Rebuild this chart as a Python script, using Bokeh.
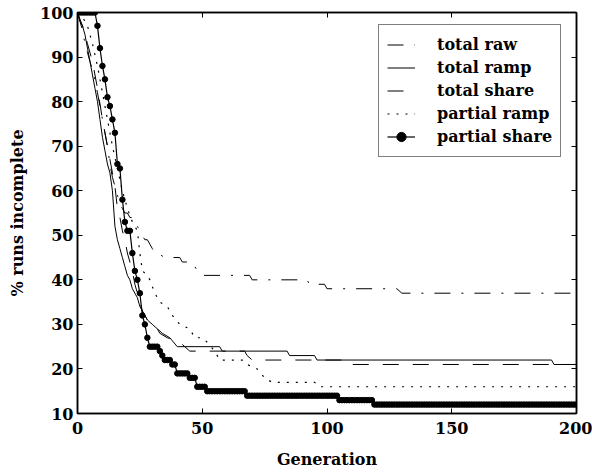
import numpy as np
from bokeh.plotting import figure
from bokeh.models import (Range1d, LinearAxis, FixedTicker, Legend, LegendItem,
                          CustomJSTickFormatter)
from bokeh.embed import file_html
from bokeh.resources import INLINE

FONT = "DejaVu Serif"

# ---------------- data ----------------
x_ticks = [0, 50, 100, 150, 200]
y_ticks = [10, 20, 30, 40, 50, 60, 70, 80, 90, 100]

total_raw_gen = [0, 1, 2, 3, 4, 5, 6, 7, 8, 9, 10, 11, 12, 13, 14, 15, 16, 17, 18, 19, 20,
                 21, 22, 23, 24, 25, 26, 27, 28, 29, 30, 31, 32, 35, 41, 42, 46, 48, 50,
                 69, 70, 92, 93, 99, 100, 128, 130, 200]
total_raw_val = [100, 98, 96, 93, 91, 89, 87, 85, 82, 79, 76, 73, 70, 66, 63, 61, 59, 57, 56, 55, 55,
                 54, 54, 53, 52, 51, 50, 49, 49, 48, 47, 46, 46, 45, 45, 44, 44, 42, 41,
                 41, 40, 40, 39, 39, 38, 38, 37, 37]

total_ramp_gen = [0, 1, 2, 3, 4, 5, 6, 7, 8, 9, 10, 11, 12, 13, 14, 15, 16, 17, 18, 19, 20,
                  21, 22, 23, 24, 25, 26, 27, 28, 30, 34, 37, 40, 57, 58, 84, 85, 95, 96,
                  190, 191, 200]
total_ramp_val = [100, 98, 97, 95, 92, 89, 86, 83, 80, 76, 72, 69, 66, 64, 60, 52, 49, 47, 45, 43, 41,
                  40, 38, 37, 36, 34, 33, 32, 31, 30, 28, 27, 25, 25, 24, 24, 23, 23, 22,
                  22, 21, 21]

total_share_gen = [0, 2, 4, 6, 8, 10, 12, 13, 14, 15, 16, 17, 18, 19, 20, 21, 22, 23, 24, 25,
                   26, 27, 28, 30, 32, 33, 36, 41, 43, 45, 67, 68, 70, 106, 107, 200]
total_share_val = [100, 97, 93, 89, 83, 76, 70, 67, 64, 61, 56, 54, 51, 49, 46, 44, 42, 39, 37, 35,
                   33, 32, 31, 30, 29, 28, 27, 26, 25, 24, 24, 23, 22, 22, 21, 21]

partial_ramp_gen = [0, 2, 4, 6, 8, 10, 12, 14, 16, 18, 20, 22, 24, 25, 26, 28, 29, 31, 33, 36,
                    38, 41, 45, 47, 50, 52, 55, 57, 66, 68, 72, 75, 78, 95, 97, 200]
partial_ramp_val = [100, 99, 97, 93, 88, 82, 76, 70, 65, 60, 56, 53, 51, 46, 42, 41, 40, 37, 35, 34,
                    32, 30, 29, 27, 27, 26, 24, 22, 22, 21, 20, 18, 17, 17, 16, 16]

# partial share: value from each listed generation on, held until the next one
partial_share_from = [0, 8, 9, 10, 11, 12, 13, 14, 15, 16, 17, 18, 19, 20, 22, 23, 24, 25, 26,
                      27, 28, 29, 33, 34, 35, 38, 40, 45, 48, 52, 68, 105, 119]
partial_share_val = [100, 97, 92, 88, 85, 81, 79, 76, 73, 66, 65, 58, 53, 51, 46, 42, 40, 37, 32,
                     30, 27, 25, 24, 23, 22, 21, 19, 18, 16, 15, 14, 13, 12]

generations = np.arange(0, 201)
idx = np.searchsorted(np.array(partial_share_from), generations, side="right") - 1
ps_y = np.array(partial_share_val)[idx]

# ---------------- figure ----------------
p = figure(width=592, height=472, output_backend="svg", toolbar_location=None,
           x_range=Range1d(0, 200), y_range=Range1d(10, 100),
           min_border_left=77, min_border_right=16, min_border_top=12, min_border_bottom=59,
           x_axis_label="Generation", y_axis_label="% runs incomplete")
p.background_fill_color = "white"
p.border_fill_color = "white"
p.grid.visible = False
p.outline_line_color = "black"
p.outline_line_width = 1.5

for ax in p.xaxis:
    ax.ticker = FixedTicker(ticks=x_ticks)
    ax.major_label_standoff = 8
    ax.axis_label_standoff = 13
for ax in p.yaxis:
    ax.ticker = FixedTicker(ticks=y_ticks)
    ax.major_label_standoff = 4
    ax.axis_label_standoff = 10

for ax in list(p.xaxis) + list(p.yaxis):
    ax.major_label_text_font = FONT
    ax.major_label_text_font_style = "bold"
    ax.major_label_text_font_size = "16px"
    ax.major_label_text_color = "black"
    ax.axis_label_text_font = FONT
    ax.axis_label_text_font_style = "bold"
    ax.axis_label_text_font_size = "16px"
    ax.axis_label_text_color = "black"
    ax.axis_line_width = 1.5
    ax.axis_line_color = "black"
    ax.major_tick_in = 5
    ax.major_tick_out = 0
    ax.major_tick_line_width = 1
    ax.minor_tick_line_color = None

blank = CustomJSTickFormatter(code="return ''")
top = LinearAxis(ticker=FixedTicker(ticks=x_ticks), formatter=blank,
                 major_label_standoff=0, major_tick_in=5, major_tick_out=0,
                 minor_tick_line_color=None, axis_line_width=1.5)
right = LinearAxis(ticker=FixedTicker(ticks=y_ticks), formatter=blank,
                   major_label_standoff=0, major_tick_in=5, major_tick_out=0,
                   minor_tick_line_color=None, axis_line_width=1.5)
p.add_layout(top, "above")
p.add_layout(right, "right")

r_raw = p.line(total_raw_gen, total_raw_val, line_color="black", line_width=1,
               line_dash="16 11 2 11")
r_ramp = p.line(total_ramp_gen, total_ramp_val, line_color="black", line_width=1)
r_share = p.line(total_share_gen, total_share_val, line_color="black", line_width=1,
                 line_dash="16 14")
r_pramp = p.line(partial_ramp_gen, partial_ramp_val, line_color="black", line_width=1.2,
                 line_dash="2 7")
r_pshare_l = p.line(generations, ps_y, line_color="black", line_width=1.2)
r_pshare_m = p.scatter(generations, ps_y, marker="circle", size=5.5,
                       fill_color="black", line_color="black")

legend = Legend(items=[
    LegendItem(label="total raw", renderers=[r_raw]),
    LegendItem(label="total ramp", renderers=[r_ramp]),
    LegendItem(label="total share", renderers=[r_share]),
    LegendItem(label="partial ramp", renderers=[r_pramp]),
    LegendItem(label="partial share", renderers=[r_pshare_l, r_pshare_m]),
], location=(301, 256))
legend.label_text_font = FONT
legend.label_text_font_style = "bold"
legend.label_text_font_size = "16px"
legend.label_text_color = "black"
legend.padding = 8
legend.spacing = 0
legend.glyph_width = 28
legend.glyph_height = 23
legend.label_height = 23
legend.label_standoff = 22
legend.border_line_color = "black"
legend.border_line_width = 1.2
legend.background_fill_color = "white"
legend.background_fill_alpha = 1
p.add_layout(legend)

open("out.html", "w").write(file_html(p, INLINE))
